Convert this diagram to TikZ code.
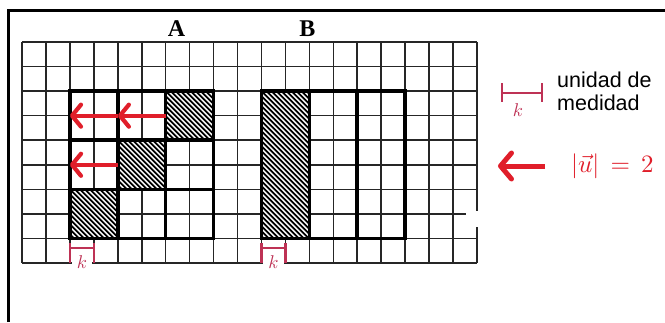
\documentclass[tikz,border=0pt]{standalone}
\usepackage{graphicx}
\usepackage{fontspec}
\newfontfamily\labfont{Liberation Serif}
\newfontfamily\legfont{Liberation Sans}
\usetikzlibrary{arrows.meta}
\definecolor{arrowred}{RGB}{224,30,42}
\definecolor{kred}{RGB}{190,50,85}
\newcommand\hatchbox[4]{%
  \fill[white] (#1,#2) rectangle (#3,#4);
  \begin{scope}
    \clip (#1,#2) rectangle (#3,#4);
    \foreach \t in {-160,-155,...,60}
      \draw[hatchline] ({#1+\t},#2) -- ++(160,160);
  \end{scope}}
\newcommand\kbig{\scalebox{1.85}{$k$}}
\tikzset{
  gridline/.style={line width=1.6pt, draw=black!85},
  thickline/.style={line width=3.6pt, draw=black, line cap=rect},
  hatchline/.style={line width=1.7pt, draw=black},
  redarrow/.style={draw=arrowred, line width=4.2pt,
    -{Straight Barb[length=9pt,width=22pt,line width=4.2pt,round]}},
  bigarrow/.style={draw=arrowred, line width=5pt,
    -{Straight Barb[length=11pt,width=26pt,line width=5pt,round]}},
  kmark/.style={draw=kred, line width=2.4pt},
  klabel/.style={text=kred, inner sep=0pt},
  boxlabel/.style={inner sep=0pt, font=\labfont\bfseries\fontsize{24}{28}\selectfont},
  legtext/.style={inner sep=0pt, anchor=base west, font=\legfont\fontsize{21.5}{25}\selectfont}
}
\begin{document}
\begin{tikzpicture}[x=1pt,y=-1pt]
\useasboundingbox (0,0) rectangle (665,322);
% frame
\draw[line width=3pt] (8.5,322) -- (8.5,10) -- (665,10);
% grid
\begin{scope}[shift={(22,42)}, x=23.947pt, y=-24.556pt]
  \foreach \i in {0,...,19} \draw[gridline] (\i,0) -- (\i,9);
  \foreach \j in {0,...,9} \draw[gridline] (0,\j) -- (19,\j);
\end{scope}
% hatching
\hatchbox{165.68}{91.11}{213.58}{140.22}
\hatchbox{117.79}{140.22}{165.68}{189.33}
\hatchbox{69.89}{189.33}{117.79}{238.45}
\hatchbox{261.47}{91.11}{309.36}{238.45}
% figure A
\draw[thickline] (69.89,91.11) rectangle (213.58,238.45);
\draw[thickline] (117.79,91.11) -- (117.79,238.45);
\draw[thickline] (165.68,91.11) -- (165.68,238.45);
\draw[thickline] (69.89,140.22) -- (213.58,140.22);
\draw[thickline] (69.89,189.33) -- (213.58,189.33);
% figure B
\draw[thickline] (261.47,91.11) rectangle (405.15,238.45);
\draw[thickline] (309.36,91.11) -- (309.36,238.45);
\draw[thickline] (357.26,91.11) -- (357.26,238.45);
% labels
\node[boxlabel] (labA) at (176.5,28.5) {A};
\node[boxlabel] (labB) at (307.5,28.5) {B};
% arrows in A
\coordinate (a1s) at (165.68,115.67);
\coordinate (a1e) at (117.79,115.67);
\coordinate (a2e) at (69.89,115.67);
\coordinate (a3s) at (117.79,164.78);
\coordinate (a3e) at (69.89,164.78);
\draw[redarrow] (a1s) -- (a1e);
\draw[redarrow] (a1e) -- (a2e);
\draw[redarrow] (a3s) -- (a3e);
% unit marks under A and B
\fill[white] (71.5,255) rectangle (92.2,270);
\fill[white] (263.1,255) rectangle (284.1,270);
\draw[kmark] (69.89,243) -- (69.89,263) (69.89,248) -- (93.84,248) (93.84,243) -- (93.84,263);
\draw[kmark] (261.47,243) -- (261.47,263) (261.47,248) -- (285.42,248) (285.42,243) -- (285.42,263);
\node[klabel] (kA) at (82,262.5) {\kbig};
\node[klabel] (kB) at (273.6,262.5) {\kbig};
% gap on right border
\fill[white] (466,211) rectangle (480,227);
% legend
\draw[kmark] (502,83) -- (502,102) (502,93) -- (542,93) (542,83) -- (542,102);
\node[klabel] (kL) at (518,110) {\kbig};
\node[legtext] (t1) at (557,87) {unidad de};
\node[legtext] (t2) at (557,110) {medidad};
\coordinate (ls) at (545,166);
\coordinate (le) at (498,166);
\draw[bigarrow] (ls) -- (le);
\node[anchor=west, inner sep=0pt, text=arrowred] (u) at (571,166) {\scalebox{2.5}{$|\vec{u}|\,=\,2$}};
\end{tikzpicture}
\end{document}
